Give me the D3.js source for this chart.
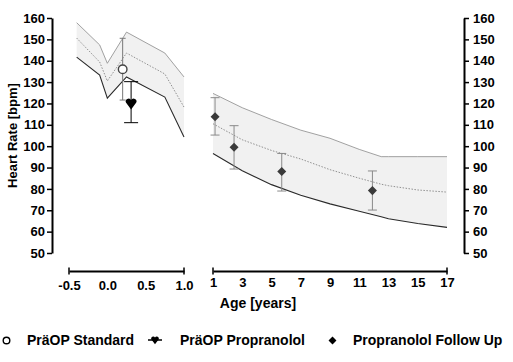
<!DOCTYPE html>
<html>
<head>
<meta charset="utf-8">
<script src="https://cdn.jsdelivr.net/npm/d3@7"></script>
<style>
  body { margin: 0; background: #fff; }
  text { font-family: "Liberation Sans", Arial, sans-serif; font-weight: bold; fill: #000; }
</style>
</head>
<body>
<script>
// reference band, first year of life (age in years)
const infantAge   = [-0.4, -0.1, 0, 0.25, 0.75, 1.0];
const infantUpper = [157.8, 147.4, 138.8, 153.4, 143.6, 132.4];
const infantMid   = [150.6, 139.4, 130.5, 143.6, 133.8, 118.3];
const infantLower = [141.7, 133.3, 122.5, 132.4, 123.0, 104.3];

// reference band, children
const childAge   = [1, 3, 5, 7, 9, 11, 12.5, 13, 15, 17];
const childUpper = [124.7, 118, 112.5, 107.5, 103.7, 98.5, 95.1, 95.1, 95.1, 95.1];
const childMid   = [110.5, 103, 98, 94, 89, 85, 82.2, 81.5, 79.5, 78.5];
const childLower = [96.6, 88.5, 82, 77, 73, 69.5, 67, 66, 63.8, 62];

// patient groups: age, mean, upper / lower error bar
const standardPt   = [{ age: 0.2, hr: 136, hi: 150.5, lo: 121.6 }];
const propranololPt = [{ age: 0.31, hr: 120, hi: 130.2, lo: 111 }];
const followUpAge = [1.14, 2.44, 5.7, 11.9];
const followUpHR  = [113.8, 99.5, 88.1, 79.2];
const followUpHi  = [122.7, 109.6, 96.6, 88.4];
const followUpLo  = [105.2, 89.3, 79, 70.1];

const yTicks = [50, 60, 70, 80, 90, 100, 110, 120, 130, 140, 150, 160];
const xTicksInfant = [-0.5, 0, 0.5, 1.0];
const xTicksChild = [1, 3, 5, 7, 9, 11, 13, 15, 17];
const legendLabels = ["PräOP Standard", "PräOP Propranolol", "Propranolol Follow Up"];

const svg = d3.select('body').append('svg')
  .attr('width', 513)
  .attr('height', 362);

const y = d3.scaleLinear().domain([50, 160]).range([253, 18]);
const xL = d3.scaleLinear().domain([-0.5, 1]).range([69, 184]);
const xR = d3.scaleLinear().domain([1, 17]).range([213, 447]);

const heartPath = "M0,6 L-5,-0.6 A2.8,2.8 0 1 1 0,-3.4 A2.8,2.8 0 1 1 5,-0.6 Z";

function drawBand(x, ages, up, mid, lo) {
  const rows = ages.map((a, i) => ({ a: a, u: up[i], m: mid[i], l: lo[i] }));
  svg.append('path')
    .attr('d', d3.area().x(d => x(d.a)).y0(d => y(d.l)).y1(d => y(d.u))(rows))
    .attr('fill', '#f1f1f1');
  svg.append('path')
    .attr('d', d3.line().x(d => x(d.a)).y(d => y(d.u))(rows))
    .attr('fill', 'none').attr('stroke', '#8a8a8a').attr('stroke-width', 0.8);
  svg.append('path')
    .attr('d', d3.line().x(d => x(d.a)).y(d => y(d.m))(rows))
    .attr('fill', 'none').attr('stroke', '#777').attr('stroke-width', 0.8)
    .attr('stroke-dasharray', '1.5,1.5');
  svg.append('path')
    .attr('d', d3.line().x(d => x(d.a)).y(d => y(d.l))(rows))
    .attr('fill', 'none').attr('stroke', '#2a2a2a').attr('stroke-width', 1.1);
}

drawBand(xL, infantAge, infantUpper, infantMid, infantLower);
drawBand(xR, childAge, childUpper, childMid, childLower);

function errorBar(cx, hi, lo, cap, color) {
  const g = svg.append('g').attr('stroke', color).attr('stroke-width', 1);
  g.append('line').attr('x1', cx).attr('x2', cx).attr('y1', y(hi)).attr('y2', y(lo));
  g.append('line').attr('x1', cx - cap).attr('x2', cx + cap).attr('y1', y(hi)).attr('y2', y(hi));
  g.append('line').attr('x1', cx - cap).attr('x2', cx + cap).attr('y1', y(lo)).attr('y2', y(lo));
}

// follow up diamonds
followUpAge.forEach((a, i) => {
  errorBar(xR(a), followUpHi[i], followUpLo[i], 4.5, '#8a8a8a');
});
svg.selectAll('.fu')
  .data(followUpAge)
  .join('path')
  .attr('class', 'fu')
  .attr('d', d3.symbol().type(d3.symbolDiamond2).size(52))
  .attr('transform', (d, i) => `translate(${xR(d)},${y(followUpHR[i])})`)
  .attr('fill', '#3a3a3a');

// preop propranolol heart
propranololPt.forEach(d => {
  errorBar(xL(d.age), d.hi, d.lo, 7, '#000');
  svg.append('path')
    .attr('d', heartPath)
    .attr('transform', `translate(${xL(d.age)},${y(d.hr)})`)
    .attr('fill', '#000');
});

// preop standard circle
standardPt.forEach(d => {
  errorBar(xL(d.age), d.hi, d.lo, 3, '#777');
  svg.append('circle')
    .attr('cx', xL(d.age)).attr('cy', y(d.hr)).attr('r', 4.3)
    .attr('fill', '#fff').attr('stroke', '#444').attr('stroke-width', 1.4);
});

// y axes
const yAxisL = svg.append('g')
  .attr('transform', 'translate(52,0)')
  .call(d3.axisLeft(y).tickValues(yTicks).tickSize(5).tickSizeOuter(0));
const yAxisR = svg.append('g')
  .attr('transform', 'translate(464,0)')
  .call(d3.axisRight(y).tickValues(yTicks).tickSize(5).tickSizeOuter(0));

// x axes, ticks only at the ends
const xAxisL = svg.append('g')
  .attr('transform', 'translate(0,271)')
  .call(d3.axisBottom(xL).tickValues(xTicksInfant).tickFormat(d => d.toFixed(1)).tickSize(0).tickSizeOuter(0).tickPadding(10));
const xAxisR = svg.append('g')
  .attr('transform', 'translate(0,271)')
  .call(d3.axisBottom(xR).tickValues(xTicksChild).tickFormat(d3.format('d')).tickSize(0).tickSizeOuter(0).tickPadding(7));

[yAxisL, yAxisR, xAxisL, xAxisR].forEach(ax => {
  ax.select('.domain').attr('stroke', '#000').attr('stroke-width', 2);
  ax.selectAll('.tick line').attr('stroke', '#000').attr('stroke-width', 1.5);
  ax.selectAll('.tick text')
    .style('font-family', '"Liberation Sans", Arial, sans-serif')
    .style('font-weight', 'bold').style('font-size', '13px').attr('fill', '#000');
});
yAxisL.selectAll('.tick text').attr('x', -7);
yAxisR.selectAll('.tick text').attr('x', 9);

[[xL, -0.5], [xL, 1.0], [xR, 1], [xR, 17]].forEach(e => {
  svg.append('line')
    .attr('x1', e[0](e[1])).attr('x2', e[0](e[1]))
    .attr('y1', 267.5).attr('y2', 274.5)
    .attr('stroke', '#000').attr('stroke-width', 1.5);
});

// axis titles
svg.append('text')
  .attr('x', 258).attr('y', 308)
  .attr('text-anchor', 'middle')
  .style('font-size', '14px')
  .text('Age [years]');
svg.append('text')
  .attr('transform', 'translate(17,135.5) rotate(-90)')
  .attr('text-anchor', 'middle')
  .style('font-size', '13px')
  .text('Heart Rate [bpm]');

// legend
const leg = svg.append('g');
leg.append('circle').attr('cx', 6.5).attr('cy', 340.5).attr('r', 3.3)
  .attr('fill', '#fff').attr('stroke', '#000').attr('stroke-width', 1.4);
leg.append('line').attr('x1', 148).attr('x2', 162).attr('y1', 340).attr('y2', 340)
  .attr('stroke', '#000').attr('stroke-width', 1.5);
leg.append('path').attr('d', heartPath).attr('transform', 'translate(155,340) scale(0.72)').attr('fill', '#000');
leg.append('path').attr('d', d3.symbol().type(d3.symbolDiamond2).size(40))
  .attr('transform', 'translate(332.5,340.5)').attr('fill', '#000');
const legX = [27, 180, 353];
leg.selectAll('.lt')
  .data(legendLabels)
  .join('text')
  .attr('class', 'lt')
  .attr('x', (d, i) => legX[i]).attr('y', 345)
  .style('font-size', '14px')
  .text(d => d);
</script>
</body>
</html>
